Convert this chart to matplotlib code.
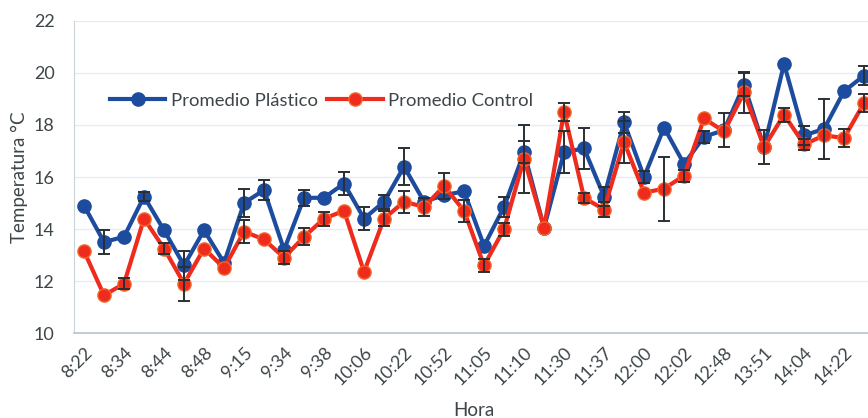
import matplotlib.pyplot as plt
import numpy as np

plt.rcParams['font.family'] = ['Lato', 'DejaVu Sans']

# hora de cada lectura (solo se rotulan las pares)
tick_labels = ["8:22", "8:34", "8:44", "8:48", "9:15", "9:34", "9:38", "10:06",
               "10:22", "10:52", "11:05", "11:10", "11:30", "11:37", "12:00",
               "12:02", "12:48", "13:51", "14:04", "14:22"]

plastico = [14.9, 13.5, 13.7, 15.25, 13.95, 12.6, 13.95, 12.7, 15.0, 15.5,
            13.2, 15.2, 15.2, 15.75, 14.4, 15.05, 16.4, 15.05, 15.3, 15.45,
            13.35, 14.85, 16.95, 14.05, 16.95, 17.1, 15.25, 18.1, 16.0, 17.9,
            16.5, 17.55, 17.8, 19.55, 17.15, 20.35, 17.6, 17.85, 19.3, 19.9]
control = [13.15, 11.45, 11.9, 14.4, 13.25, 11.9, 13.25, 12.5, 13.9, 13.6,
           12.9, 13.7, 14.4, 14.7, 12.35, 14.4, 15.05, 14.85, 15.65, 14.7,
           12.6, 14.0, 16.7, 14.05, 18.5, 15.2, 14.75, 17.35, 15.4, 15.55,
           16.05, 18.25, 17.75, 19.25, 17.15, 18.4, 17.25, 17.6, 17.5, 18.85]

err_plastico = [0, 0.45, 0, 0.17, 0, 0.55, 0, 0, 0.55, 0.4,
                0, 0.3, 0, 0.45, 0.43, 0.27, 0.7, 0, 0, 0,
                0, 0.4, 0.42, 0, 0.8, 0.8, 0.35, 0.4, 0.23, 0,
                0, 0.23, 0.65, 0.45, 0.65, 0, 0.38, 1.15, 0, 0.35]
err_control = [0, 0, 0.2, 0, 0.23, 0.65, 0, 0, 0.45, 0,
               0.25, 0.33, 0.27, 0, 0, 0.3, 0.42, 0.35, 0.5, 0.42,
               0.25, 0.25, 1.3, 0, 0.35, 0.2, 0.27, 0.8, 0, 1.23,
               0.23, 0, 0, 0.78, 0, 0.27, 0.2, 0, 0.35, 0.35]

azul = "#1d4c9e"
rojo = "#ee2b1c"
texto = "#3d4548"

x = np.arange(len(plastico))

fig = plt.figure(figsize=(8.68, 4.18), dpi=100)
ax = fig.add_axes([0.0853, 0.2033, 0.9217, 0.7465])

ax.plot(x, plastico, color=azul, lw=3, marker='o', ms=9.5, mec=azul,
        label="Promedio Plástico", zorder=3)
ax.plot(x, control, color=rojo, lw=3, marker='o', ms=9.5, mec="#f4662a",
        mew=1, label="Promedio Control", zorder=4)

for vals, errs in ((plastico, err_plastico), (control, err_control)):
    idx = [i for i, e in enumerate(errs) if e > 0]
    ax.errorbar(idx, [vals[i] for i in idx], yerr=[errs[i] for i in idx],
                fmt='none', ecolor="#2a2f33", elinewidth=1.4, capsize=4,
                capthick=1.4, zorder=5)

ax.set_xlim(-0.5, len(x) - 0.5)
ax.set_ylim(10, 22)
ax.set_yticks(np.arange(10, 23, 2))
ax.set_xticks(x[::2])
ax.set_xticklabels(tick_labels, rotation=45, ha='right', rotation_mode='anchor')
ax.tick_params(axis='both', length=0, labelsize=13, colors=texto)
ax.tick_params(axis='x', pad=8)
ax.tick_params(axis='y', pad=14)

ax.grid(axis='y', color="#e2eef2", lw=1)
ax.set_axisbelow(True)
for s in ('top', 'right'):
    ax.spines[s].set_visible(False)
ax.spines['left'].set_color("#c9d3d8")
ax.spines['bottom'].set_color("#b9c3c8")
ax.spines['bottom'].set_linewidth(1.2)

ax.set_ylabel("Temperatura °C", fontsize=13.5, color=texto, labelpad=4)
ax.set_xlabel("Hora", fontsize=13.5, color=texto, labelpad=10)

ax.legend(loc='center left', bbox_to_anchor=(0.045, 0.744), ncol=2,
          frameon=False, fontsize=13.3, labelcolor=texto, handlelength=3.0,
          handletextpad=0.3, columnspacing=0.5, borderaxespad=0, borderpad=0)

fig.savefig("out.png", dpi=100)
